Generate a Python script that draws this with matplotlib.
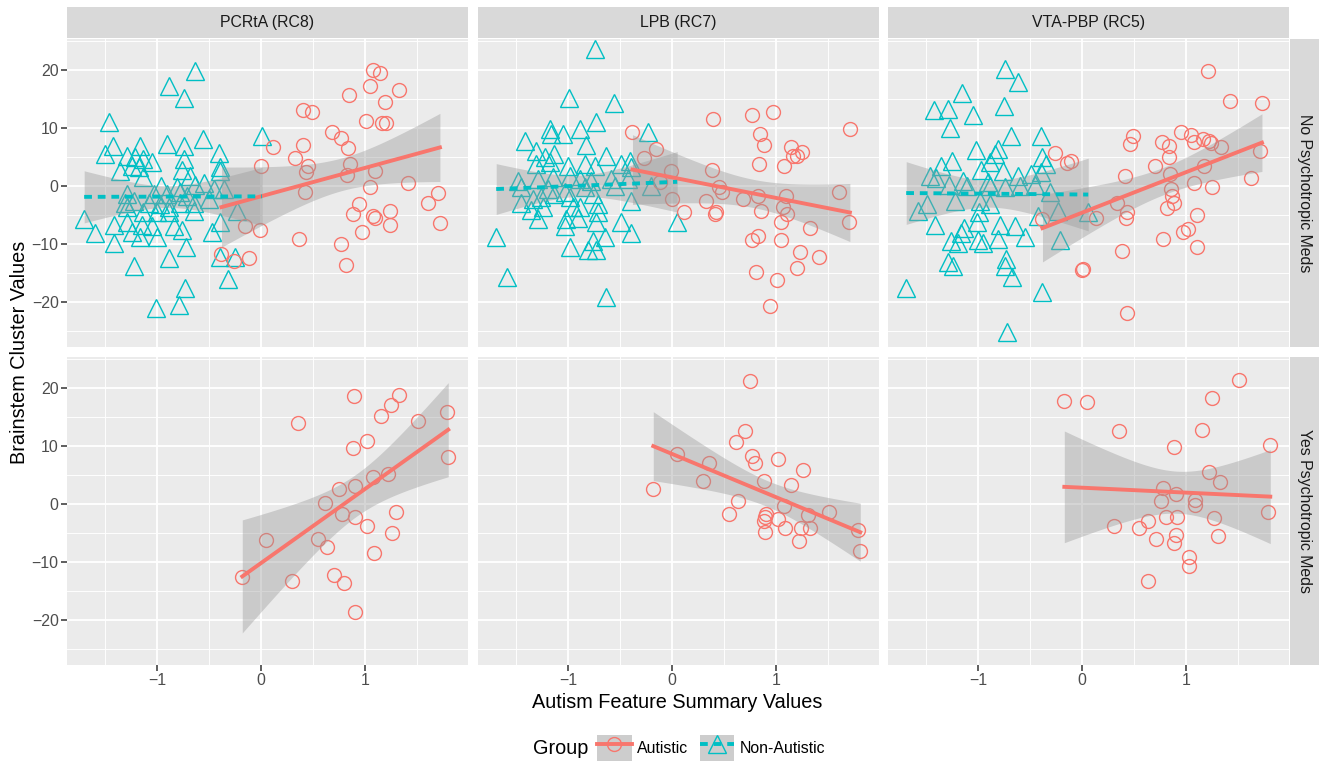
import numpy as np
import matplotlib.pyplot as plt
from matplotlib.patches import Patch
from matplotlib.lines import Line2D
from matplotlib.ticker import FixedLocator

plt.rcParams['font.family'] = ['Liberation Sans', 'DejaVu Sans']

clusters = ['PCRtA (RC8)', 'LPB (RC7)', 'VTA-PBP (RC5)']
meds = ['No Psychotropic Meds', 'Yes Psychotropic Meds']
groups = ['Autistic', 'Non-Autistic']

# ---- No psychotropic meds ----
pcrta_no_nonaut_x = [-0.63, -0.88, -0.74, -1.46, -1.42, -1.50, -1.16, -0.90, -0.74, -0.56,
                     -0.40, 0.01, -1.29, -1.21, -1.13, -1.05, -0.74, -1.36, -1.24, -1.17,
                     -0.76, -0.68, -0.39, -0.39, -1.13, -0.96, -0.81, -0.63, -0.55, -0.45,
                     -0.36, -1.29, -1.03, -0.90, -0.78, -0.71, -1.31, -1.22, -1.08, -0.97,
                     -0.88, -0.78, -0.64, -0.50, -1.70, -1.29, -1.13, -1.00, -0.88, -0.64,
                     -0.39, -0.23, -1.41, -1.29, -1.14, -1.05, -0.84, -0.76, -1.60, -1.41,
                     -1.24, -1.16, -1.00, -0.47, -0.72, -0.39, -0.25, -0.88, -1.22, -0.32,
                     -0.73, -0.79, -1.01]
pcrta_no_nonaut_y = [19.9, 17.3, 15.2, 11.1, 6.9, 5.5, 6.9, 7.3, 6.9, 8.1,
                     5.7, 8.7, 5.2, 5.0, 4.7, 4.2, 4.7, 2.6, 3.5, 3.3,
                     2.9, 1.7, 3.3, 2.6, 1.6, 0.0, -0.2, 0.3, 0.5, -0.5,
                     -0.5, -1.4, -1.4, -1.4, -1.0, -1.7, -2.8, -2.6, -2.8, -3.1,
                     -3.5, -2.8, -2.8, -2.2, -5.7, -3.6, -4.5, -4.5, -4.5, -4.3,
                     -6.1, -4.3, -6.6, -6.2, -6.6, -6.9, -6.9, -7.6, -8.0, -9.7,
                     -7.8, -8.8, -8.7, -7.8, -10.4, -12.1, -12.1, -12.3, -13.8, -15.9,
                     -17.5, -20.4, -20.9]
pcrta_no_aut_x = [0.00, -0.15, -0.01, -0.38, -0.26, -0.12, 0.33, 0.45, 0.43, 0.42,
                  0.40, 0.40, 0.49, 0.85, 0.68, 0.77, 0.84, 0.86, 0.83, 1.05,
                  1.10, 1.01, 1.08, 1.14, 1.05, 1.19, 1.33, 1.16, 1.20, 1.41,
                  1.61, 1.70, 1.72, 0.94, 0.88, 1.08, 1.10, 1.24, 1.24, 0.97,
                  0.77, 0.82, 0.37, 0.12]
pcrta_no_aut_y = [3.5, -6.9, -7.6, -11.6, -12.8, -12.3, 4.8, 3.5, 2.4, -0.9,
                  7.1, 13.1, 12.8, 15.7, 9.3, 8.3, 6.6, 3.8, 1.9, -0.2,
                  2.6, 11.2, 20.1, 19.6, 17.3, 14.5, 16.6, 10.9, 10.9, 0.5,
                  -2.8, -1.2, -6.4, -3.1, -4.7, -5.2, -5.5, -4.2, -6.7, -7.8,
                  -10.0, -13.5, -9.0, 6.8]

lpb_no_nonaut_x = [-0.74, -0.99, -0.56, -0.73, -1.17, -1.16, -1.05, -0.88, -0.23, -1.41,
                   -0.83, -1.31, -1.13, -1.22, -0.63, -1.31, -1.17, -1.00, -0.84, -0.74,
                   -0.49, -0.40, -0.39, -1.48, -1.29, -1.14, -0.98, -0.88, -0.78, -0.59,
                   -0.42, -1.45, -1.19, -1.03, -0.84, -0.76, -0.55, -0.20, -1.45, -1.34,
                   -1.26, -1.13, -0.98, -1.36, -1.24, -0.95, -0.88, -0.71, -0.39, -1.29,
                   -1.02, -0.90, -0.71, -0.73, -1.03, -0.49, 0.05, -1.69, -0.39, -0.64,
                   -0.98, -0.76, -0.81, -0.73, -1.59, -0.63]
lpb_no_nonaut_y = [23.7, 15.2, 14.4, 11.1, 9.9, 9.0, 9.0, 9.9, 9.3, 7.8,
                   7.1, 6.1, 5.5, 5.0, 5.2, 3.8, 4.2, 3.5, 3.8, 3.5,
                   3.8, 4.3, 3.3, 0.9, 1.2, 1.6, 1.7, 1.2, 0.9, 1.2,
                   1.2, -0.2, -0.5, -1.0, -0.2, -1.4, 0.0, 0.0, -2.8, -2.2,
                   -1.9, -1.4, -1.9, -4.0, -3.6, -3.5, -3.6, -3.1, -2.6, -5.7,
                   -5.7, -5.4, -4.5, -6.1, -6.9, -6.1, -6.2, -8.8, -8.0, -8.7,
                   -10.4, -9.5, -10.9, -10.9, -15.6, -19.0]
lpb_no_aut_x = [-0.38, -0.15, -0.27, -0.01, -0.12, 0.00, 0.12, 0.39, 0.77, 0.97,
                1.71, 0.85, 0.88, 1.14, 1.25, 1.20, 1.16, 0.84, 1.08, 0.38,
                0.45, 0.48, 0.33, 0.68, 0.83, 1.10, 1.07, 1.11, 0.86, 0.42,
                0.41, 1.05, 1.61, 1.70, 1.33, 0.77, 0.83, 1.05, 1.23, 1.41,
                1.20, 0.81, 1.01, 0.94]
lpb_no_aut_y = [9.3, 6.4, 4.8, 2.6, 0.7, -2.1, -4.5, 11.6, 12.3, 12.8,
                9.9, 9.0, 7.1, 6.7, 5.9, 5.2, 5.2, 3.8, 3.5, 2.9,
                -0.2, -0.9, -2.6, -2.2, -1.7, -1.6, -3.6, -4.8, -4.3, -4.5,
                -4.8, -6.1, -0.9, -6.1, -7.1, -9.2, -8.5, -9.3, -11.4, -12.1,
                -14.0, -14.7, -16.1, -20.6]

vta_no_nonaut_x = [-0.74, -0.62, -1.15, -1.42, -1.29, -0.75, -1.05, -1.27, -0.68, -0.39,
                   -1.02, -0.81, -0.84, -1.25, -0.38, -0.88, -1.36, -0.97, -0.76, -0.35,
                   -1.46, -1.40, -0.62, -0.49, -0.39, -1.14, -1.28, -0.90, -0.74, -0.60,
                   -0.45, -1.11, -0.88, -1.22, -0.98, -0.88, -0.31, -1.49, -1.58, -0.23,
                   -0.42, -0.99, -1.01, -1.41, -1.13, -0.79, -0.64, -1.16, -0.55, -0.81,
                   -1.00, -1.26, -1.19, -0.95, -0.21, -1.29, -0.73, -1.24, -0.74, -0.67,
                   -1.69, -0.38, -0.72, 0.06]
vta_no_nonaut_y = [20.2, 18.0, 16.1, 13.1, 13.3, 13.8, 12.3, 10.0, 8.7, 8.7,
                   6.2, 6.4, 5.5, 4.3, 5.0, 4.2, 3.5, 2.9, 2.6, 3.8,
                   1.7, 1.4, 1.7, 2.1, 2.4, 0.9, 0.3, 0.7, -0.2, 0.0,
                   0.3, 0.0, 0.0, -2.6, -2.6, -3.1, -1.0, -3.1, -4.3, -4.3,
                   -5.2, -4.5, -6.1, -6.6, -7.1, -6.6, -6.9, -8.0, -8.8, -9.0,
                   -9.2, -9.5, -9.7, -9.7, -9.2, -13.0, -12.6, -13.8, -13.8, -15.7,
                   -17.6, -18.3, -25.1, -4.5]
vta_no_aut_x = [-0.26, -0.14, -0.11, -0.38, 0.00, 0.01, 0.13, 1.21, 1.42, 1.73,
                0.49, 0.46, 0.77, 0.84, 0.95, 1.05, 1.08, 1.16, 1.22, 1.24,
                1.34, 1.71, 0.84, 0.70, 1.17, 0.41, 0.85, 1.08, 1.25, 1.62,
                0.86, 0.87, 0.88, 0.82, 0.34, 0.43, 0.42, 1.11, 0.97, 1.02,
                0.78, 1.11, 0.38, 0.43]
vta_no_aut_y = [5.7, 4.0, 4.3, -5.7, -14.4, -14.2, -5.4, 19.9, 14.7, 14.4,
                8.7, 7.3, 7.6, 6.9, 9.3, 8.8, 7.6, 8.1, 7.8, 7.4,
                6.7, 6.1, 5.0, 3.5, 3.5, 1.7, 2.1, 0.5, -0.2, 1.4,
                -0.5, -1.6, -2.8, -3.8, -2.8, -4.5, -5.4, -5.0, -7.8, -7.4,
                -9.0, -10.4, -11.2, -21.8]

# ---- Yes psychotropic meds (autistic only) ----
pcrta_yes_aut_x = [0.89, 1.33, 1.25, 1.15, 1.79, 1.51, 0.36, 1.02, 0.88, 1.80,
                   1.08, 1.22, 0.75, 0.90, 0.62, 0.78, 0.90, 1.02, 1.30, 1.26,
                   0.05, 0.55, 0.63, 1.09, -0.18, 0.30, 0.70, 0.80, 0.90]
pcrta_yes_aut_y = [18.6, 18.8, 17.1, 15.2, 16.0, 14.3, 14.1, 11.0, 9.7, 8.1,
                   4.7, 5.3, 2.6, 3.1, 0.2, -1.6, -2.2, -3.8, -1.4, -5.0,
                   -6.2, -5.9, -7.4, -8.4, -12.6, -13.3, -12.1, -13.6, -18.6]
lpb_yes_aut_x = [0.75, 0.70, 0.62, 0.05, 0.77, 0.80, 1.02, 1.26, 0.36, 0.30,
                 0.88, 1.14, -0.18, 0.63, 0.55, 1.08, 0.90, 0.89, 0.88, 1.02,
                 1.31, 1.51, 1.09, 1.24, 1.33, 0.89, 1.22, 1.79, 1.81]
lpb_yes_aut_y = [21.2, 12.6, 10.7, 8.6, 8.3, 7.1, 7.9, 5.9, 7.2, 4.1,
                 4.1, 3.3, 2.6, 0.5, -1.6, -0.3, -1.7, -2.2, -2.9, -2.6,
                 -1.9, -1.4, -4.1, -4.0, -4.0, -4.8, -6.4, -4.5, -8.1]
vta_yes_aut_x = [-0.17, 0.05, 1.51, 1.25, 1.15, 0.36, 0.88, 1.81, 1.22, 1.33,
                 0.78, 0.90, 0.76, 1.09, 1.09, 1.79, 0.81, 0.91, 1.27, 0.63,
                 0.55, 0.31, 0.90, 0.88, 0.71, 1.31, 1.03, 1.03, 0.63]
vta_yes_aut_y = [17.9, 17.6, 21.4, 18.3, 12.9, 12.6, 9.8, 10.3, 5.5, 3.8,
                 2.8, 1.7, 0.5, 0.7, -0.1, -1.4, -2.2, -2.2, -2.4, -2.9,
                 -4.0, -3.8, -5.3, -6.6, -5.9, -5.5, -9.1, -10.7, -13.3]

panels = {
    (0, 0): {'Autistic': (pcrta_no_aut_x, pcrta_no_aut_y), 'Non-Autistic': (pcrta_no_nonaut_x, pcrta_no_nonaut_y)},
    (0, 1): {'Autistic': (lpb_no_aut_x, lpb_no_aut_y), 'Non-Autistic': (lpb_no_nonaut_x, lpb_no_nonaut_y)},
    (0, 2): {'Autistic': (vta_no_aut_x, vta_no_aut_y), 'Non-Autistic': (vta_no_nonaut_x, vta_no_nonaut_y)},
    (1, 0): {'Autistic': (pcrta_yes_aut_x, pcrta_yes_aut_y)},
    (1, 1): {'Autistic': (lpb_yes_aut_x, lpb_yes_aut_y)},
    (1, 2): {'Autistic': (vta_yes_aut_x, vta_yes_aut_y)},
}

colors = {'Autistic': '#F8766D', 'Non-Autistic': '#00BFC4'}
markers = {'Autistic': ('o', 10), 'Non-Autistic': ('^', 13)}
dashes = {'Autistic': (None, None), 'Non-Autistic': (0, (2.0, 1.5))}


def t975(df):
    # Cornish-Fisher approximation of the 0.975 t quantile
    z = 1.959964
    g1 = (z**3 + z) / 4
    g2 = (5*z**5 + 16*z**3 + 3*z) / 96
    g3 = (3*z**7 + 19*z**5 + 17*z**3 - 15*z) / 384
    return z + g1/df + g2/df**2 + g3/df**3


def lm_band(x, y, n=80):
    x = np.asarray(x); y = np.asarray(y)
    X = np.column_stack([np.ones_like(x), x])
    beta = np.linalg.lstsq(X, y, rcond=None)[0]
    resid = y - X @ beta
    df = len(x) - 2
    s2 = resid @ resid / df
    cov = s2 * np.linalg.inv(X.T @ X)
    xs = np.linspace(x.min(), x.max(), n)
    Xs = np.column_stack([np.ones_like(xs), xs])
    fit = Xs @ beta
    se = np.sqrt(np.einsum('ij,jk,ik->i', Xs, cov, Xs))
    t = t975(df)
    return xs, fit, fit - t*se, fit + t*se


W, H = 1320, 763
fig = plt.figure(figsize=(W/100, H/100), dpi=100)


def box(l, t, w, h):
    return [l/W, 1 - (t + h)/H, w/W, h/H]


col_left = [67, 478, 888]
col_w = 401
row_top = [39, 357]
row_h = 308

for (r, c), data in panels.items():
    ax = fig.add_axes(box(col_left[c], row_top[r], col_w, row_h))
    ax.set_facecolor('#EBEBEB')
    for s in ax.spines.values():
        s.set_visible(False)
    ax.set_xlim(-1.865, 1.99)
    ax.set_ylim(-27.7, 25.4)
    ax.set_xticks([-1, 0, 1])
    ax.set_yticks([-20, -10, 0, 10, 20])
    ax.xaxis.set_minor_locator(FixedLocator([-1.5, -0.5, 0.5, 1.5]))
    ax.yaxis.set_minor_locator(FixedLocator([-25, -15, -5, 5, 15, 25]))
    ax.grid(True, which='major', color='white', lw=1.3)
    ax.grid(True, which='minor', color='white', lw=0.65)
    ax.set_axisbelow(True)
    ax.tick_params(which='minor', length=0)
    ax.tick_params(which='major', length=4, width=1.1, color='#333333',
                   labelcolor='#4D4D4D', labelsize=11.4, pad=2)
    ax.set_xticklabels(['\u22121', '0', '1'])
    ax.set_yticklabels(['\u221220', '\u221210', '0', '10', '20'])
    if r == 0:
        ax.tick_params(axis='x', length=0, labelbottom=False)
    if c != 0:
        ax.tick_params(axis='y', length=0, labelleft=False)

    for g in ['Non-Autistic', 'Autistic']:
        if g in data:
            x, y = data[g]
            m, ms = markers[g]
            ax.plot(x, y, ls='none', marker=m, ms=ms, mfc='none',
                    mec=colors[g], mew=1.0, zorder=2)
    for g in groups:
        if g in data:
            x, y = data[g]
            xs, fit, lo, hi = lm_band(x, y)
            ax.fill_between(xs, lo, hi, color='#999999', alpha=0.4, lw=0, zorder=3)
            ls = '-' if g == 'Autistic' else dashes[g]
            ax.plot(xs, fit, color=colors[g], lw=2.8, ls=ls, zorder=4)

    if r == 0:
        sax = fig.add_axes(box(col_left[c], 7, col_w, 31))
        sax.set_facecolor('#D9D9D9')
        sax.set_xticks([]); sax.set_yticks([])
        for s in sax.spines.values():
            s.set_visible(False)
        sax.text(0.5, 0.5, clusters[c], ha='center', va='center',
                 fontsize=11.4, color='#1A1A1A', transform=sax.transAxes)
    if c == 2:
        sax = fig.add_axes(box(1290, row_top[r], 29, row_h))
        sax.set_facecolor('#D9D9D9')
        sax.set_xticks([]); sax.set_yticks([])
        for s in sax.spines.values():
            s.set_visible(False)
        sax.text(0.5, 0.5, meds[r], ha='center', va='center', rotation=-90,
                 fontsize=11.4, color='#1A1A1A', transform=sax.transAxes)

fig.text(20/W, 1 - 352/H, 'Brainstem Cluster Values', rotation=90,
         ha='center', va='center', fontsize=14.3, color='black')
fig.text(677/W, 1 - 703/H, 'Autism Feature Summary Values',
         ha='center', va='center', fontsize=14.3, color='black')

fig.text(561/W, 1 - 748/H, 'Group', ha='center', va='center',
         fontsize=14.3, color='black')
handles = []
for g in groups:
    m, ms = markers[g]
    ls = '-' if g == 'Autistic' else dashes[g]
    ln = Line2D([], [], color=colors[g], lw=2.8, ls=ls, marker=m, ms=ms,
                mfc='none', mec=colors[g], mew=1.0)
    handles.append((Patch(facecolor='#CDCDCD', edgecolor='none'), ln))
fig.legend(handles, groups, loc='center left', bbox_to_anchor=(597/W, 1 - 748/H),
           frameon=False, ncol=2, fontsize=11.4, numpoints=1,
           handlelength=2.2, handleheight=2.1, handletextpad=0.35,
           columnspacing=0.7, borderpad=0, borderaxespad=0)

fig.savefig('out.png', dpi=100)
